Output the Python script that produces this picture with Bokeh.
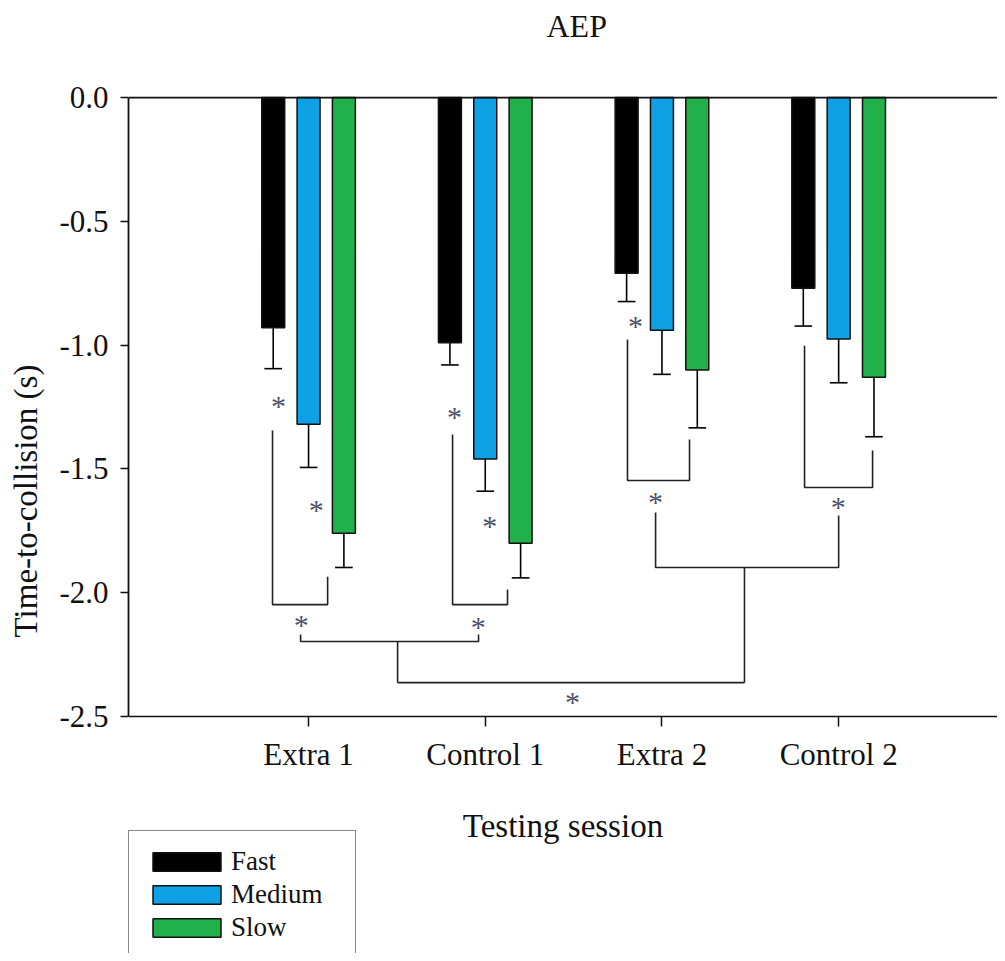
from bokeh.plotting import figure
from bokeh.models import (Range1d, FixedTicker, PrintfTickFormatter, Legend,
                          LegendItem, ColumnDataSource, Span, LinearAxis)
from bokeh.core.properties import value
from bokeh.embed import file_html
from bokeh.resources import INLINE

# ---------------- data ----------------
sessions = ["Extra 1", "Control 1", "Extra 2", "Control 2"]
speeds = ["Fast", "Medium", "Slow"]
fast_mean = [-0.93, -0.99, -0.71, -0.77]
fast_se = [0.165, 0.09, 0.114, 0.153]
medium_mean = [-1.32, -1.46, -0.94, -0.975]
medium_se = [0.174, 0.13, 0.178, 0.177]
slow_mean = [-1.76, -1.80, -1.10, -1.13]
slow_se = [0.138, 0.14, 0.234, 0.24]
speed_colors = ["#000000", "#0ea1e6", "#22b04b"]
speed_offsets = [-0.2, 0.0, 0.2]

# significance brackets within a session: x_left, y_left_top, x_right, y_right_top, y_bottom
wb_xl = [0.796, 1.815, 2.805, 3.807]
wb_ylt = [-1.345, -1.361, -0.977, -1.002]
wb_xr = [1.108, 2.126, 3.156, 4.192]
wb_yrt = [-1.935, -1.987, -1.381, -1.426]
wb_yb = [-2.048, -2.048, -1.547, -1.575]
# brackets between sessions of the same type
bb_xl = [0.955, 2.964]
bb_ylt = [-2.169, -1.676]
bb_xr = [1.962, 4.0]
bb_yrt = [-2.169, -1.688]
bb_yb = [-2.197, -1.898]
bb_stem_x = [1.504, 3.467]
conn_y = -2.363
# asterisks
ast_x = [0.830, 1.044, 0.959, 1.826, 2.026, 1.960, 2.851, 2.964, 3.998, 2.494]
ast_y = [-1.220, -1.638, -2.105, -1.264, -1.706, -2.112, -0.898, -1.607, -1.628, -2.415]

FONT = "Liberation Serif"
Y_MIN, Y_MAX = -2.5, 0.0

p = figure(width=997, height=953, output_backend="svg", toolbar_location=None,
           x_range=Range1d(-0.019, 4.899), y_range=Range1d(-3.457, 0.198),
           x_axis_location=None,
           min_border_left=128, min_border_right=0, min_border_top=48,
           min_border_bottom=0)
p.outline_line_color = None
p.xgrid.visible = False
p.ygrid.visible = False
p.background_fill_color = "white"
p.border_fill_color = "white"

p.title.text = "AEP"
p.title.align = "left"
p.title.offset = 418
p.title.text_font = FONT
p.title.text_font_style = "normal"
p.title.text_font_size = "32px"
p.title.text_color = "#111111"
p.title.standoff = 10

means = [fast_mean, medium_mean, slow_mean]
ses = [fast_se, medium_se, slow_se]
xs = [i + 1 for i in range(len(sessions))]
bar_w = 0.13
cap_w = 0.1
renderers = []
for k, name in enumerate(speeds):
    bx = [x + speed_offsets[k] for x in xs]
    lo = [m - s for m, s in zip(means[k], ses[k])]
    src = ColumnDataSource(dict(x=bx, top=[0.0] * len(bx), bottom=means[k], lo=lo,
                                cl=[x - cap_w / 2 for x in bx], cr=[x + cap_w / 2 for x in bx]))
    p.segment(x0="x", y0="bottom", x1="x", y1="lo", source=src, line_color="black", line_width=1.6)
    p.segment(x0="cl", y0="lo", x1="cr", y1="lo", source=src, line_color="black", line_width=1.6)
    r = p.vbar(x="x", top="top", bottom="bottom", width=bar_w, source=src,
               fill_color=speed_colors[k], line_color="#111111", line_width=1.5)
    renderers.append(r)

# brackets
mx, my = [], []
for xl, ylt, xr, yrt, yb in zip(wb_xl, wb_ylt, wb_xr, wb_yrt, wb_yb):
    mx.append([xl, xl, xr, xr]); my.append([ylt, yb, yb, yrt])
for xl, ylt, xr, yrt, yb, sx in zip(bb_xl, bb_ylt, bb_xr, bb_yrt, bb_yb, bb_stem_x):
    mx.append([xl, xl, xr, xr]); my.append([ylt, yb, yb, yrt])
    mx.append([sx, sx]); my.append([yb, conn_y])
mx.append([bb_stem_x[0], bb_stem_x[1]]); my.append([conn_y, conn_y])
p.multi_line(xs=mx, ys=my, line_color="#222222", line_width=1.6)

p.text(x=ast_x, y=ast_y, text=["*"] * len(ast_x), text_font=value(FONT),
       text_font_size="30px", text_color="#4b4f6b", text_align="center",
       text_baseline="middle", y_offset=6)

p.add_layout(Span(location=Y_MAX, dimension="width", line_color="#111111", line_width=1.8))

# x axis, fixed at the bottom of the value range
xa = LinearAxis(fixed_location=Y_MIN)
xa.ticker = FixedTicker(ticks=xs)
xa.major_label_overrides = {x: s for x, s in zip(xs, sessions)}
xa.minor_tick_line_color = None
xa.major_tick_in = 0
xa.major_tick_out = 10
xa.major_tick_line_width = 1.5
xa.axis_line_width = 1.6
xa.axis_line_color = "#111111"
xa.major_tick_line_color = "#111111"
xa.major_label_text_font = FONT
xa.major_label_text_font_size = "31px"
xa.major_label_text_color = "#111111"
xa.major_label_standoff = 10
xa.axis_label = "Testing session"
xa.axis_label_text_font = FONT
xa.axis_label_text_font_size = "33px"
xa.axis_label_text_font_style = "normal"
xa.axis_label_text_color = "#111111"
xa.axis_label_standoff = 33
p.add_layout(xa, "below")

ya = p.yaxis[0]
ya.bounds = (Y_MIN, Y_MAX)
ya.ticker = FixedTicker(ticks=[0, -0.5, -1.0, -1.5, -2.0, -2.5])
ya.formatter = PrintfTickFormatter(format="%.1f")
ya.minor_tick_line_color = None
ya.major_tick_in = 0
ya.major_tick_out = 8
ya.major_tick_line_width = 1.5
ya.axis_line_width = 1.8
ya.axis_line_color = "#111111"
ya.major_tick_line_color = "#111111"
ya.major_label_text_font = FONT
ya.major_label_text_font_size = "31px"
ya.major_label_text_color = "#111111"
ya.major_label_standoff = 12
ya.axis_label = "Time-to-collision (s)"
ya.axis_label_text_font = FONT
ya.axis_label_text_font_size = "33px"
ya.axis_label_text_font_style = "normal"
ya.axis_label_text_color = "#111111"
ya.axis_label_standoff = 12

legend = Legend(items=[LegendItem(label=n, renderers=[r]) for n, r in zip(speeds, renderers)],
                location=(0, -6), orientation="vertical")
legend.label_text_font = FONT
legend.label_text_font_size = "27px"
legend.label_text_color = "#111111"
legend.glyph_width = 85
legend.glyph_height = 23
legend.label_standoff = 2
legend.label_width = 109
legend.label_height = 31
legend.spacing = 2
legend.padding = 15
legend.margin = 0
legend.border_line_color = "#111111"
legend.border_line_width = 1.3
legend.background_fill_color = "white"
legend.background_fill_alpha = 1.0
p.add_layout(legend, "center")

open("out.html", "w").write(file_html(p, INLINE))
